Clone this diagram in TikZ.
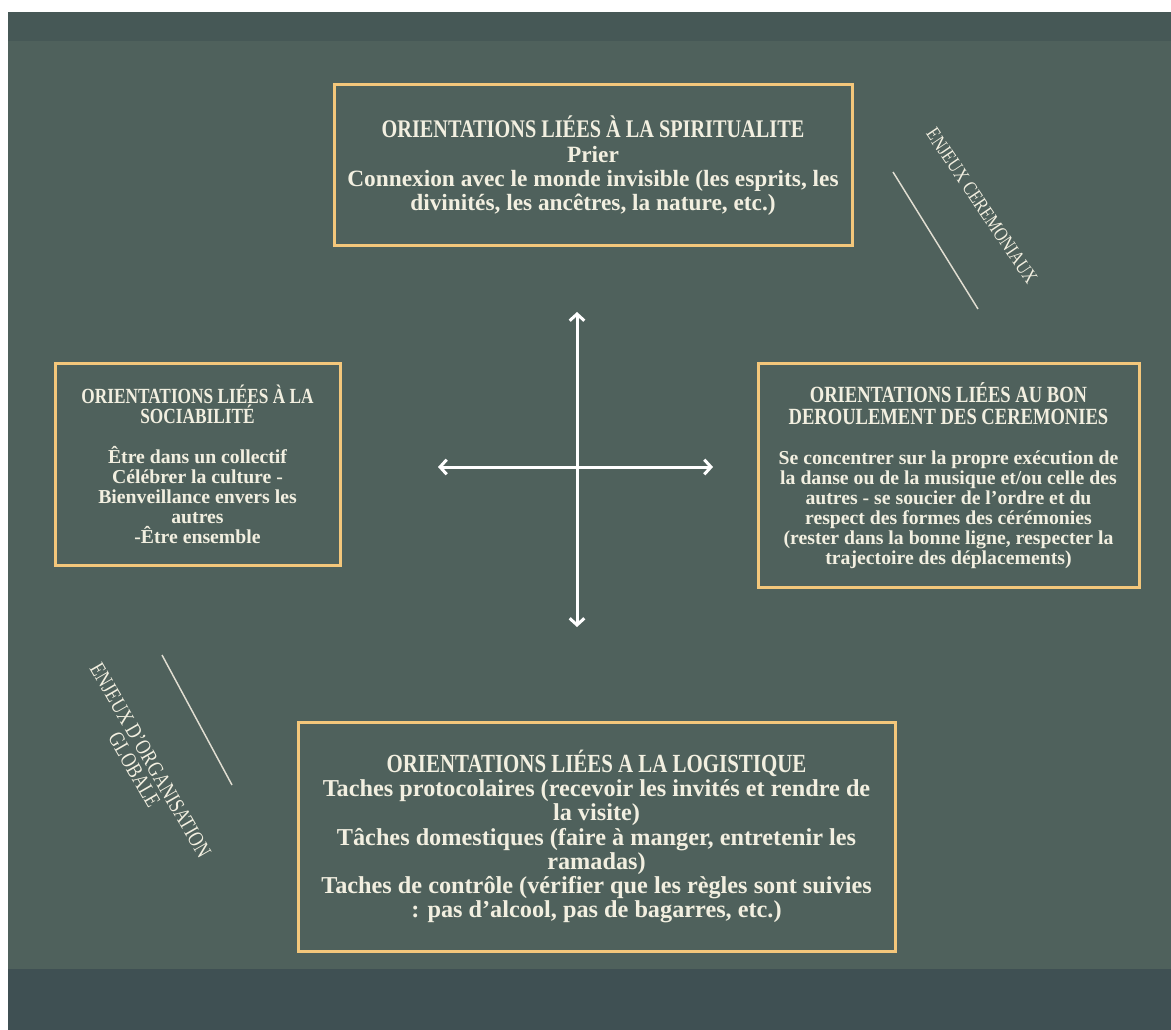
\documentclass[tikz,border=0pt]{standalone}
\usepackage{fontspec}
\setmainfont{Liberation Serif}
\newfontfamily\condfont{Liberation Serif}[FakeStretch=0.8]
\usetikzlibrary{arrows.meta}
\definecolor{bgtop}{HTML}{465856}
\definecolor{bgmain}{HTML}{4F615C}
\definecolor{bgbot}{HTML}{3F5053}
\definecolor{gold}{HTML}{F4C77B}
\definecolor{cream}{HTML}{F2EFE0}

\begin{document}
\begin{tikzpicture}[x=0.75pt, y=-0.75pt,
  box/.style = {draw=gold, line width=2.25pt, inner sep=0pt, align=center, text=cream},
  axis/.style = {draw=white, line width=2.25pt, {Straight Barb[length=5pt,width=11pt]}-{Straight Barb[length=5pt,width=11pt]}},
  stake/.style = {text=cream, align=center, inner sep=0pt, font=\condfont\fontsize{15}{14}\selectfont},
  slash/.style = {draw=cream!85!gray, line width=1.1pt}]

%background
\fill[white] (0,0) rectangle (1171,1030);
\fill[bgtop] (8,12) rectangle (1171,41);
\fill[bgmain] (8,41) rectangle (1171,969);
\fill[bgbot] (8,969) rectangle (1171,1030);
\useasboundingbox (0,0) rectangle (1171,1030);

%boxes
\node[box, minimum width=388.5pt, minimum height=120.75pt, font=\bfseries\fontsize{17.5}{18}\selectfont] (spirit) at (593,165.5)
  {{\condfont\fontsize{19}{18}\selectfont ORIENTATIONS LIÉES À LA SPIRITUALITE}\\[1pt]
   Prier\\
   Connexion avec le monde invisible (les esprits, les\\
   divinités, les ancêtres, la nature, etc.)};
\node[box, minimum width=213.75pt, minimum height=150.75pt, font=\bfseries\fontsize{14.8}{15}\selectfont] (social) at (197.5,464.5)
  {{\condfont\fontsize{16.2}{15}\selectfont ORIENTATIONS LIÉES À LA}\\
   {\condfont\fontsize{16.2}{15}\selectfont SOCIABILITÉ}\\[15pt]
   Être dans un collectif\\
   Célébrer la culture -\\
   Bienveillance envers les\\
   autres\\
   -Être ensemble};
\node[box, minimum width=285.75pt, minimum height=167.25pt, font=\bfseries\fontsize{14.8}{15}\selectfont] (ceremony) at (948.5,475.5)
  {{\condfont\fontsize{17.4}{16.5}\selectfont ORIENTATIONS LIÉES AU BON}\\[1.5pt]
   {\condfont\fontsize{17.4}{16.5}\selectfont DEROULEMENT DES CEREMONIES}\\[15pt]
   Se concentrer sur la propre exécution de\\
   la danse ou de la musique et/ou celle des\\
   autres - se soucier de l’ordre et du\\
   respect des formes des cérémonies\\
   (rester dans la bonne ligne, respecter la\\
   trajectoire des déplacements)};
\node[box, minimum width=447.75pt, minimum height=171.75pt, font=\bfseries\fontsize{18.2}{18.2}\selectfont] (logistic) at (596.5,836.5)
  {{\condfont\fontsize{19.6}{18.2}\selectfont ORIENTATIONS LIÉES A LA LOGISTIQUE}\\
   Taches protocolaires (recevoir les invités et rendre de\\
   la visite)\\
   Tâches domestiques (faire à manger, entretenir les\\
   ramadas)\\
   Taches de contrôle (vérifier que les règles sont suivies\\
   : pas d’alcool, pas de bagarres, etc.)};

%axes
\coordinate (up) at (577,312);
\coordinate (down) at (577,627);
\coordinate (lt) at (438,467);
\coordinate (rt) at (713,467);
\draw[axis] (lt) -- (rt);
\draw[axis] (up) -- (down);

%stakes
\coordinate (c1) at (893,172);
\coordinate (c2) at (978,309);
\draw[slash] (c1) -- (c2);
\node[stake, rotate=-56] (cere) at (982,206) {ENJEUX CEREMONIAUX};

\coordinate (o1) at (162,655);
\coordinate (o2) at (232,785);
\draw[slash] (o1) -- (o2);
\node[stake, rotate=-60, font=\condfont\fontsize{16.5}{14}\selectfont] (orga) at (142.5,765) {ENJEUX D’ORGANISATION\\GLOBALE};
\end{tikzpicture}
\end{document}
